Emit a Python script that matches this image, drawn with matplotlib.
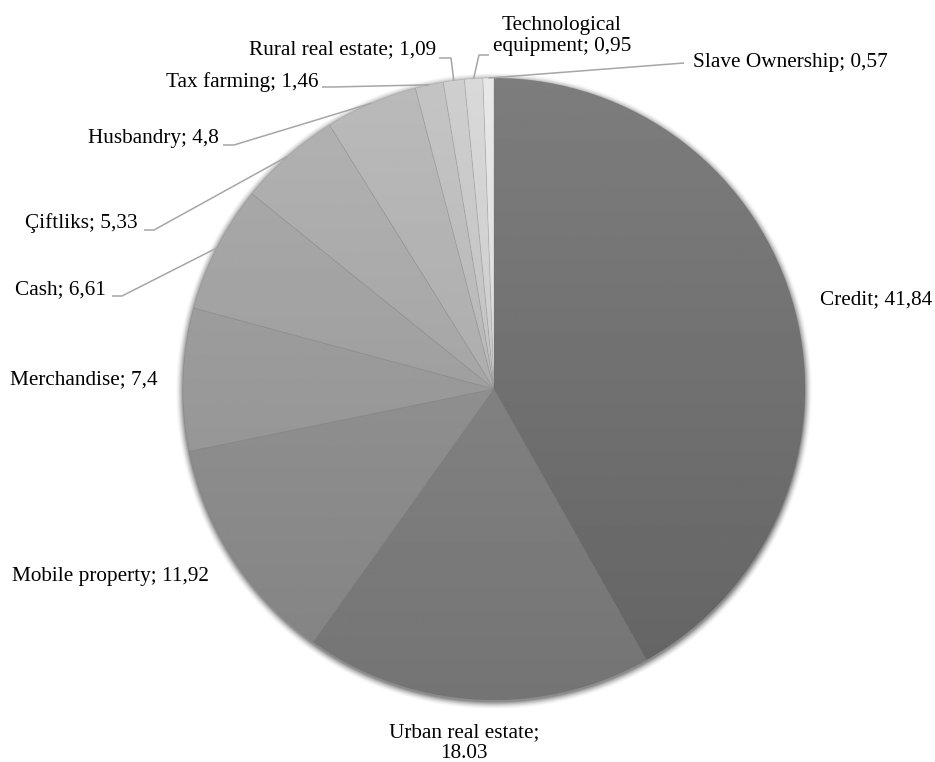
import numpy as np
import matplotlib.pyplot as plt

W, H = 935, 762

categories = ["Credit", "Urban real estate", "Mobile property", "Merchandise",
              "Cash", "Çiftliks", "Husbandry", "Tax farming",
              "Rural real estate", "Technological equipment", "Slave Ownership"]
shares = [41.84, 18.03, 11.92, 7.4, 6.61, 5.33, 4.8, 1.46, 1.09, 0.95, 0.57]
decimal_marks = [",", ".", ",", ",", ",", ",", ",", ",", ",", ",", ","]

# Grey level of each slice at the pie's horizontal midline.
grey_levels = [0.44, 0.505, 0.56, 0.60, 0.625, 0.65, 0.68, 0.72, 0.76, 0.80, 0.86]

# Pie geometry in pixels (y measured from the top of the image).
CX, CY, R = 494, 389, 311

# Label placement: text anchor (px from top-left), alignment, leader elbows.
LABEL_LAYOUT = {
    "Credit": dict(xy=(820, 300), ha="left"),
    "Urban real estate": dict(xy=(464, 743), ha="center", wrap=("; ", ";\n")),
    "Mobile property": dict(xy=(12, 577), ha="left"),
    "Merchandise": dict(xy=(10, 380), ha="left"),
    "Cash": dict(xy=(106, 290), ha="right", elbow=[(112, 296), (122, 296)]),
    "Çiftliks": dict(xy=(138, 223), ha="right", elbow=[(144, 230), (154, 230)]),
    "Husbandry": dict(xy=(219, 138), ha="right", elbow=[(223, 145), (234, 145)]),
    "Tax farming": dict(xy=(318, 82), ha="right", elbow=[(322, 87), (332, 87)]),
    "Rural real estate": dict(xy=(436, 50), ha="right", elbow=[(439, 58), (451, 58)]),
    "Technological equipment": dict(xy=(562, 36), ha="center",
                                    wrap=("Technological ", "Technological\n"),
                                    elbow=[(489, 55), (479, 55)]),
    "Slave Ownership": dict(xy=(693, 62), ha="left", elbow=[(684, 63)]),
}

LINE_COLOR = "#a6a6a6"

plt.rcParams["font.family"] = ["Liberation Serif", "DejaVu Serif"]


def px(x, y):
    # Convert image pixel coordinates to data coordinates (y up).
    return x, H - y


fig = plt.figure(figsize=(W / 100, H / 100), dpi=100)
ax = fig.add_axes([0, 0, 1, 1])
ax.set_axis_off()

cx, cy = px(CX, CY)

# Soft drop shadow around the pie.
gx, gy = np.meshgrid(np.arange(W) + 0.5, np.arange(H) + 0.5)
dist = np.hypot(gx - cx, gy - (cy - 2))
shadow = np.zeros((H, W, 4))
shadow[..., 3] = 0.45 * np.clip(1 - (dist - R) / 8, 0, 1) ** 1.8
ax.imshow(shadow, origin="lower", extent=(0, W, 0, H), zorder=0,
          interpolation="bilinear")

wedges, _ = ax.pie(
    shares,
    startangle=90,
    counterclock=False,
    center=(cx, cy),
    radius=R,
    colors=[str(g) for g in grey_levels],
    wedgeprops=dict(linewidth=0),
)

# Vertical shading inside each slice, lighter at the top.
ramp = np.linspace(-1, 1, 256)[:, None] * np.ones((1, 2))
for wedge, g in zip(wedges, grey_levels):
    im = ax.imshow(np.clip(g + 0.05 * ramp, 0, 1), cmap="gray", vmin=0, vmax=1,
                   origin="lower", extent=(cx - R, cx + R, cy - R, cy + R),
                   zorder=2, interpolation="bilinear")
    im.set_clip_path(wedge)
    wedge.set_facecolor("none")
    wedge.set_edgecolor((0.45, 0.45, 0.45, 0.15))
    wedge.set_linewidth(0.6)
    wedge.set_zorder(3)

# Data labels with leader lines for the small slices.
for wedge, name, value, mark in zip(wedges, categories, shares, decimal_marks):
    layout = LABEL_LAYOUT[name]
    text = f"{name}; {value:g}".replace(".", mark)
    if "wrap" in layout:
        text = text.replace(*layout["wrap"])
    tx, ty = px(*layout["xy"])
    ax.text(tx, ty, text, ha=layout["ha"], va="center", fontsize=15.3,
            color="black", linespacing=1.12, multialignment="center", zorder=5)

    if "elbow" in layout:
        mid = np.deg2rad((wedge.theta1 + wedge.theta2) / 2)
        tip = (cx + R * np.cos(mid), cy + R * np.sin(mid))
        pts = [px(*p) for p in layout["elbow"]] + [tip]
        ax.plot([p[0] for p in pts], [p[1] for p in pts], color=LINE_COLOR,
                linewidth=1.1, solid_capstyle="butt", zorder=4)

ax.set_xlim(0, W)
ax.set_ylim(0, H)
ax.set_aspect("equal")

fig.savefig("out.png", dpi=100, facecolor="white")
